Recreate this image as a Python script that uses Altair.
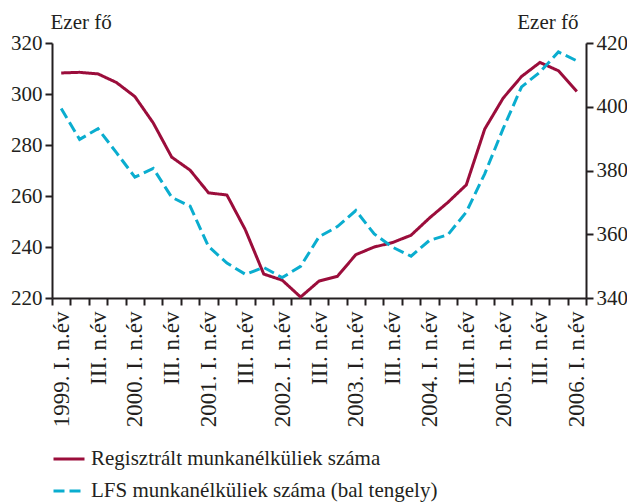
import json
import altair as alt
import pandas as pd

# Quarter tick labels (1999 I. ... 2006 I.), only every second one is printed
quarter_labels = [
    "1999. I. n.év", "", "III. n.év", "",
    "2000. I. n.év", "", "III. n.év", "",
    "2001. I. n.év", "", "III. n.év", "",
    "2002. I. n.év", "", "III. n.év", "",
    "2003. I. n.év", "", "III. n.év", "",
    "2004. I. n.év", "", "III. n.év", "",
    "2005. I. n.év", "", "III. n.év", "",
    "2006. I. n.év",
]

# Registered unemployed (right axis, thousand persons)
registered = [410.6, 410.8, 410.3, 407.6, 403.2, 394.9, 384.2, 380.1, 373.0, 372.3,
              361.4, 347.5, 345.6, 340.3, 345.3, 346.8, 353.6, 356.0, 357.4, 359.7,
              365.1, 370.0, 375.5, 393.0, 402.7, 409.5, 413.9, 411.3, 404.8]

# LFS unemployed (left axis, thousand persons)
lfs = [294.3, 282.2, 286.4, 277.0, 267.4, 270.8, 259.5, 256.0, 240.2, 233.7,
       229.3, 232.0, 228.0, 232.4, 244.0, 248.0, 254.3, 245.1, 239.9, 236.4,
       242.6, 244.8, 253.7, 268.7, 286.4, 302.8, 308.6, 316.5, 313.0]

series_names = ["Regisztrált munkanélküliek száma",
                "LFS munkanélküliek száma (bal tengely)"]
colors = ["#9B0D3B", "#0AADCF"]
dashes = [[1, 0], [11, 5]]

rows = []
for i in range(len(quarter_labels)):
    rows.append({"idx": i, "series": series_names[0], "value": registered[i]})
    rows.append({"idx": i, "series": series_names[1], "value": lfs[i]})
df = pd.DataFrame(rows)

FONT = "'Liberation Serif', 'Times New Roman', 'DejaVu Serif', serif"
n = len(quarter_labels)
label_js = json.dumps(quarter_labels, ensure_ascii=False)

x_enc = alt.X(
    "idx:Q",
    scale=alt.Scale(domain=[-0.5, n - 0.5], nice=False, zero=False),
    axis=alt.Axis(
        values=[k / 2 for k in range(-1, 2 * n)],
        labelExpr=f"datum.value % 1 === 0 ? {label_js}[datum.value] : ''",
        labelAngle=270,
        labelAlign="right",
        labelBaseline="middle",
        labelOverlap=False,
        labelFlush=False,
        labelPadding=6,
        labelFontSize=23,
        tickOpacity={"condition": {"test": "datum.value % 1 !== 0", "value": 1}, "value": 0},
        tickSize=7,
        title=None,
        grid=False,
    ),
)

color_enc = alt.Color(
    "series:N",
    scale=alt.Scale(domain=series_names, range=colors),
    legend=alt.Legend(
        title=None,
        orient="none",
        legendX=0,
        legendY=399,
        symbolType="stroke",
        symbolSize=961,
        symbolStrokeWidth=3,
        labelFont=FONT,
        labelFontSize=21,
        labelLimit=500,
        labelOffset=5,
        rowPadding=5,
        labelColor="#231F20",
    ),
)
dash_enc = alt.StrokeDash(
    "series:N",
    scale=alt.Scale(domain=series_names, range=dashes),
    legend=alt.Legend(title=None),
)

base = alt.Chart(df)

reg_line = base.transform_filter(
    alt.datum.series == series_names[0]
).mark_line(strokeWidth=3).encode(
    x=x_enc,
    y=alt.Y(
        "value:Q",
        scale=alt.Scale(domain=[340, 420], nice=False, zero=False),
        axis=alt.Axis(
            orient="right",
            values=[340, 360, 380, 400, 420],
            title="Ezer fő",
            titleAngle=0,
            titleAlign="right",
            titleBaseline="alphabetic",
            titleX=-8,
            titleY=-15,
            labelPadding=3,
            tickSize=7,
            grid=False,
        ),
    ),
    color=color_enc,
    strokeDash=dash_enc,
)

lfs_line = base.transform_filter(
    alt.datum.series == series_names[1]
).mark_line(strokeWidth=3).encode(
    x=x_enc,
    y=alt.Y(
        "value:Q",
        scale=alt.Scale(domain=[220, 320], nice=False, zero=False),
        axis=alt.Axis(
            orient="left",
            values=[220, 240, 260, 280, 300, 320],
            title="Ezer fő",
            titleAngle=0,
            titleAlign="left",
            titleBaseline="alphabetic",
            titleX=-2,
            titleY=-15,
            labelPadding=3,
            tickSize=7,
            grid=False,
        ),
    ),
    color=color_enc,
    strokeDash=dash_enc,
)

chart = alt.layer(reg_line, lfs_line).resolve_scale(
    y="independent"
).properties(
    width=534,
    height=255,
    autosize=alt.AutoSizeParams(type="none"),
    padding={"left": 44, "top": 35, "right": 41, "bottom": 205},
).configure_view(
    stroke=None
).configure_axis(
    labelFont=FONT,
    labelFontSize=21,
    labelColor="#231F20",
    titleFont=FONT,
    titleFontSize=21,
    titleFontWeight="normal",
    titleColor="#231F20",
    domainColor="#231F20",
    domainWidth=2,
    tickColor="#231F20",
    tickWidth=2,
)

chart.save("out.html", embed_options={"renderer": "svg", "actions": False})
